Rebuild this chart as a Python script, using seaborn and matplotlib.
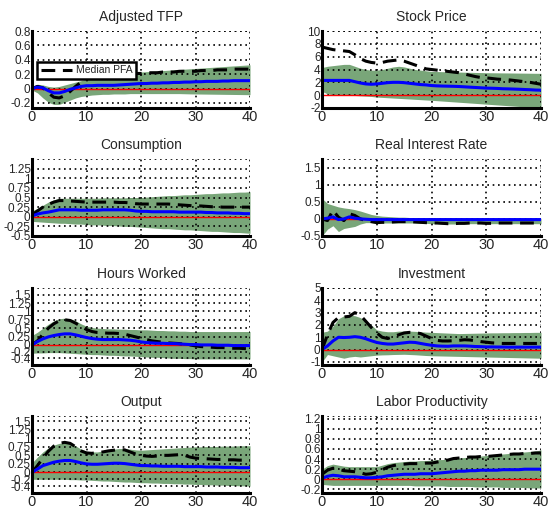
import numpy as np
import pandas as pd
import matplotlib
matplotlib.use("Agg")
import matplotlib.pyplot as plt
import seaborn as sns

sns.set_style("white")
plt.rcParams['font.family'] = ['Liberation Sans', 'DejaVu Sans']

horizon = list(range(41))

titles = ["Adjusted TFP", "Stock Price", "Consumption", "Real Interest Rate",
          "Hours Worked", "Investment", "Output", "Labor Productivity"]

# ---- Adjusted TFP
tfp_med = [0.0, 0.02, 0.01, -0.03, -0.06, -0.06, -0.04, -0.01, 0.01, 0.03, 0.04, 0.04, 0.045, 0.045, 0.045, 0.045, 0.05, 0.055, 0.06, 0.065, 0.07,
           0.07, 0.075, 0.075, 0.08, 0.08, 0.085, 0.085, 0.09, 0.09, 0.095, 0.095, 0.1, 0.1, 0.1, 0.105, 0.105, 0.11, 0.11, 0.11, 0.11]
tfp_pfa = [0.0, 0.03, 0.01, -0.06, -0.12, -0.13, -0.1, -0.04, 0.03, 0.09, 0.13, 0.16, 0.18, 0.19, 0.2, 0.2, 0.2, 0.21, 0.21, 0.21, 0.21,
           0.22, 0.22, 0.22, 0.23, 0.23, 0.23, 0.24, 0.24, 0.24, 0.24, 0.25, 0.25, 0.25, 0.26, 0.26, 0.26, 0.27, 0.27, 0.27, 0.27]
tfp_hi = [0.03, 0.06, 0.05, 0.03, 0.02, 0.03, 0.05, 0.07, 0.09, 0.11, 0.13, 0.14, 0.15, 0.16, 0.17, 0.18, 0.19, 0.2, 0.21, 0.22, 0.23,
          0.235, 0.24, 0.245, 0.25, 0.255, 0.26, 0.265, 0.27, 0.275, 0.28, 0.285, 0.29, 0.295, 0.3, 0.305, 0.31, 0.315, 0.32, 0.325, 0.33]
tfp_lo = [-0.02, -0.06, -0.13, -0.19, -0.22, -0.22, -0.19, -0.16, -0.13, -0.11, -0.1, -0.09, -0.085, -0.08, -0.08, -0.075, -0.075, -0.075, -0.07, -0.07, -0.07,
          -0.07, -0.07, -0.07, -0.07, -0.07, -0.07, -0.07, -0.072, -0.074, -0.075, -0.076, -0.077, -0.078, -0.079, -0.08, -0.081, -0.082, -0.083, -0.084, -0.085]

# ---- Stock Price
sp_med = [2.3, 2.3, 2.3, 2.3, 2.3, 2.3, 2.1, 1.9, 1.75, 1.7, 1.75, 1.85, 1.95, 2.0, 2.0, 1.95, 1.85, 1.75, 1.65, 1.6, 1.5,
          1.45, 1.42, 1.4, 1.38, 1.35, 1.3, 1.25, 1.2, 1.15, 1.1, 1.08, 1.05, 1.0, 0.98, 0.95, 0.92, 0.88, 0.85, 0.8, 0.78]
sp_pfa = [7.5, 7.3, 7.1, 7.0, 6.9, 6.8, 6.3, 5.7, 5.3, 5.1, 5.0, 5.1, 5.3, 5.4, 5.5, 5.3, 5.0, 4.7, 4.4, 4.1, 4.0,
          3.9, 3.8, 3.7, 3.6, 3.5, 3.3, 3.1, 2.9, 2.75, 2.7, 2.6, 2.5, 2.45, 2.4, 2.3, 2.2, 2.1, 2.0, 1.85, 1.7]
sp_hi = [4.3, 4.5, 4.6, 4.7, 4.8, 4.8, 4.5, 4.2, 4.0, 3.9, 3.9, 4.0, 4.2, 4.4, 4.5, 4.4, 4.2, 4.0, 3.9, 3.8, 3.7,
         3.68, 3.66, 3.64, 3.62, 3.6, 3.58, 3.56, 3.54, 3.52, 3.5, 3.49, 3.48, 3.47, 3.46, 3.45, 3.44, 3.43, 3.42, 3.41, 3.4]
sp_lo = [0.6, 0.2, 0.05, 0.0, 0.0, 0.0, -0.05, -0.1, -0.15, -0.2, -0.3, -0.35, -0.4, -0.45, -0.5, -0.55, -0.6, -0.65, -0.7, -0.75, -0.8,
         -0.86, -0.92, -0.98, -1.04, -1.1, -1.16, -1.22, -1.28, -1.34, -1.4, -1.46, -1.52, -1.58, -1.64, -1.7, -1.76, -1.82, -1.88, -1.94, -2.0]

# ---- Consumption
c_med = [0.02, 0.07, 0.1, 0.12, 0.15, 0.18, 0.18, 0.18, 0.18, 0.17, 0.17, 0.17, 0.17, 0.18, 0.18, 0.18, 0.18, 0.18, 0.17, 0.15, 0.14,
         0.14, 0.13, 0.13, 0.13, 0.13, 0.13, 0.12, 0.12, 0.12, 0.12, 0.12, 0.11, 0.11, 0.1, 0.1, 0.1, 0.09, 0.09, 0.08, 0.08]
c_pfa = [0.05, 0.15, 0.25, 0.32, 0.38, 0.42, 0.42, 0.41, 0.4, 0.39, 0.38, 0.38, 0.38, 0.38, 0.38, 0.38, 0.37, 0.37, 0.36, 0.34, 0.33,
         0.33, 0.33, 0.33, 0.33, 0.33, 0.32, 0.31, 0.3, 0.29, 0.28, 0.28, 0.27, 0.26, 0.26, 0.25, 0.25, 0.25, 0.25, 0.25, 0.25]
c_hi = [0.15, 0.22, 0.3, 0.38, 0.44, 0.48, 0.48, 0.48, 0.48, 0.48, 0.48, 0.48, 0.48, 0.49, 0.49, 0.49, 0.49, 0.49, 0.5, 0.5, 0.5,
        0.51, 0.52, 0.53, 0.54, 0.55, 0.55, 0.56, 0.57, 0.57, 0.58, 0.59, 0.6, 0.6, 0.61, 0.62, 0.62, 0.63, 0.64, 0.64, 0.65]
c_lo = [-0.12, -0.13, -0.14, -0.15, -0.16, -0.17, -0.17, -0.18, -0.19, -0.19, -0.2, -0.21, -0.21, -0.22, -0.23, -0.23, -0.24, -0.25, -0.25, -0.26, -0.27,
        -0.28, -0.29, -0.3, -0.31, -0.31, -0.32, -0.33, -0.34, -0.34, -0.35, -0.36, -0.37, -0.38, -0.38, -0.39, -0.4, -0.41, -0.41, -0.42, -0.43]

# ---- Real Interest Rate
r_med = [0.0, 0.02, 0.06, -0.02, 0.0, 0.06, 0.02, 0.0, -0.01, -0.02, -0.02, -0.02, -0.02, -0.02, -0.02, -0.02, -0.02, -0.02, -0.02, -0.02, -0.02,
         -0.02, -0.02, -0.02, -0.02, -0.02, -0.02, -0.02, -0.02, -0.02, -0.02, -0.02, -0.02, -0.02, -0.02, -0.02, -0.02, -0.02, -0.02, -0.02, -0.02]
r_pfa = [0.0, -0.05, 0.25, 0.05, -0.05, 0.15, 0.1, 0.0, -0.05, -0.08, -0.11, -0.1, -0.1, -0.09, -0.08, -0.08, -0.08, -0.09, -0.1, -0.11, -0.12,
         -0.12, -0.13, -0.14, -0.14, -0.13, -0.13, -0.12, -0.12, -0.12, -0.13, -0.13, -0.12, -0.12, -0.12, -0.12, -0.12, -0.12, -0.12, -0.12, -0.12]
r_hi = [0.6, 0.45, 0.4, 0.35, 0.32, 0.3, 0.27, 0.23, 0.18, 0.13, 0.1, 0.08, 0.07, 0.06, 0.05, 0.05, 0.04, 0.04, 0.04, 0.03, 0.03,
        0.03, 0.03, 0.03, 0.03, 0.03, 0.03, 0.03, 0.03, 0.03, 0.03, 0.02, 0.02, 0.02, 0.02, 0.02, 0.02, 0.02, 0.02, 0.02, 0.02]
r_lo = [-0.5, -0.3, -0.2, -0.37, -0.28, -0.25, -0.22, -0.15, -0.11, -0.11, -0.12, -0.12, -0.12, -0.12, -0.12, -0.12, -0.12, -0.12, -0.13, -0.13, -0.14,
        -0.14, -0.15, -0.15, -0.15, -0.15, -0.15, -0.14, -0.14, -0.14, -0.14, -0.14, -0.14, -0.14, -0.14, -0.14, -0.14, -0.14, -0.14, -0.14, -0.14]

# ---- Hours Worked
h_med = [0.0, 0.1, 0.18, 0.24, 0.28, 0.31, 0.33, 0.33, 0.3, 0.26, 0.22, 0.19, 0.17, 0.16, 0.16, 0.16, 0.16, 0.15, 0.14, 0.12, 0.09,
         0.07, 0.06, 0.05, 0.05, 0.04, 0.04, 0.03, 0.02, 0.01, 0.01, 0.0, 0.0, 0.0, -0.01, -0.01, -0.01, -0.02, -0.02, -0.02, -0.02]
h_pfa = [0.0, 0.12, 0.32, 0.5, 0.63, 0.72, 0.75, 0.73, 0.65, 0.55, 0.46, 0.4, 0.37, 0.36, 0.35, 0.35, 0.34, 0.32, 0.28, 0.24, 0.2,
         0.16, 0.12, 0.1, 0.08, 0.06, 0.05, 0.04, 0.02, 0.0, -0.03, -0.05, -0.06, -0.07, -0.08, -0.08, -0.09, -0.1, -0.1, -0.11, -0.12]
h_hi = [0.28, 0.38, 0.5, 0.62, 0.72, 0.78, 0.8, 0.78, 0.72, 0.63, 0.56, 0.52, 0.5, 0.49, 0.48, 0.48, 0.47, 0.47, 0.46, 0.46, 0.45,
        0.45, 0.44, 0.43, 0.43, 0.42, 0.42, 0.41, 0.41, 0.4, 0.4, 0.4, 0.4, 0.4, 0.4, 0.4, 0.4, 0.4, 0.4, 0.4, 0.4]
h_lo = [-0.25, -0.24, -0.24, -0.23, -0.23, -0.23, -0.24, -0.25, -0.26, -0.27, -0.28, -0.29, -0.29, -0.3, -0.31, -0.31, -0.32, -0.33, -0.33, -0.34, -0.35,
        -0.36, -0.37, -0.37, -0.38, -0.39, -0.4, -0.4, -0.41, -0.41, -0.42, -0.42, -0.42, -0.42, -0.42, -0.42, -0.42, -0.42, -0.42, -0.42, -0.42]

# ---- Investment
i_med = [0.0, 0.3, 0.7, 1.0, 0.98, 1.0, 1.05, 1.0, 0.88, 0.72, 0.58, 0.5, 0.45, 0.45, 0.5, 0.55, 0.6, 0.58, 0.5, 0.42, 0.35,
         0.3, 0.28, 0.27, 0.3, 0.3, 0.3, 0.28, 0.25, 0.24, 0.22, 0.22, 0.21, 0.21, 0.2, 0.2, 0.2, 0.2, 0.2, 0.2, 0.2]
i_pfa = [0.0, 1.2, 2.2, 2.6, 2.65, 2.7, 3.0, 2.8, 2.3, 1.8, 1.35, 1.0, 0.9, 1.05, 1.2, 1.35, 1.4, 1.38, 1.3, 1.1, 0.9,
         0.75, 0.7, 0.7, 0.72, 0.75, 0.8, 0.78, 0.72, 0.65, 0.6, 0.55, 0.52, 0.5, 0.5, 0.5, 0.5, 0.5, 0.5, 0.5, 0.5]
i_hi = [1.4, 1.5, 1.9, 2.5, 2.75, 2.8, 2.75, 2.6, 2.3, 2.0, 1.6, 1.5, 1.45, 1.45, 1.5, 1.5, 1.5, 1.48, 1.45, 1.42, 1.4,
        1.38, 1.36, 1.34, 1.32, 1.3, 1.31, 1.32, 1.33, 1.34, 1.35, 1.36, 1.36, 1.37, 1.37, 1.38, 1.38, 1.39, 1.39, 1.4, 1.4]
i_lo = [-1.0, -0.4, -0.5, -0.6, -0.7, -0.6, -0.55, -0.6, -0.55, -0.5, -0.45, -0.43, -0.42, -0.4, -0.39, -0.38, -0.4, -0.42, -0.45, -0.48, -0.5,
        -0.51, -0.52, -0.53, -0.54, -0.55, -0.56, -0.57, -0.58, -0.59, -0.6, -0.61, -0.62, -0.63, -0.64, -0.65, -0.66, -0.67, -0.68, -0.69, -0.7]

# ---- Output
y_med = [0.0, 0.1, 0.2, 0.25, 0.3, 0.33, 0.35, 0.35, 0.32, 0.28, 0.25, 0.24, 0.24, 0.25, 0.26, 0.27, 0.27, 0.26, 0.24, 0.22, 0.2,
         0.2, 0.19, 0.19, 0.18, 0.18, 0.18, 0.18, 0.17, 0.17, 0.17, 0.17, 0.16, 0.16, 0.16, 0.15, 0.15, 0.15, 0.14, 0.14, 0.14]
y_pfa = [0.0, 0.2, 0.42, 0.62, 0.77, 0.85, 0.88, 0.85, 0.75, 0.63, 0.57, 0.56, 0.58, 0.6, 0.63, 0.65, 0.67, 0.66, 0.6, 0.54, 0.5,
         0.48, 0.47, 0.48, 0.5, 0.5, 0.51, 0.52, 0.5, 0.45, 0.42, 0.41, 0.4, 0.39, 0.38, 0.38, 0.37, 0.37, 0.36, 0.36, 0.35]
y_hi = [0.28, 0.45, 0.6, 0.72, 0.8, 0.85, 0.87, 0.85, 0.78, 0.68, 0.62, 0.6, 0.6, 0.63, 0.66, 0.68, 0.7, 0.7, 0.68, 0.66, 0.65,
        0.66, 0.67, 0.68, 0.69, 0.7, 0.71, 0.72, 0.73, 0.74, 0.75, 0.75, 0.76, 0.76, 0.76, 0.77, 0.77, 0.77, 0.78, 0.78, 0.78]
y_lo = [-0.2, -0.2, -0.2, -0.2, -0.2, -0.2, -0.2, -0.21, -0.21, -0.22, -0.22, -0.23, -0.24, -0.25, -0.25, -0.26, -0.27, -0.28, -0.28, -0.29, -0.3,
        -0.3, -0.31, -0.31, -0.32, -0.32, -0.33, -0.33, -0.34, -0.34, -0.35, -0.35, -0.36, -0.36, -0.37, -0.37, -0.38, -0.38, -0.39, -0.39, -0.4]

# ---- Labor Productivity
lp_med = [0.02, 0.06, 0.08, 0.07, 0.05, 0.05, 0.05, 0.04, 0.03, 0.03, 0.04, 0.05, 0.07, 0.08, 0.09, 0.1, 0.1, 0.1, 0.11, 0.11, 0.11,
          0.12, 0.13, 0.14, 0.15, 0.16, 0.16, 0.17, 0.17, 0.18, 0.18, 0.18, 0.18, 0.19, 0.19, 0.19, 0.19, 0.2, 0.2, 0.2, 0.2]
lp_pfa = [0.1, 0.18, 0.22, 0.2, 0.17, 0.16, 0.15, 0.13, 0.1, 0.11, 0.14, 0.19, 0.24, 0.27, 0.29, 0.3, 0.31, 0.31, 0.31, 0.32, 0.32,
          0.34, 0.36, 0.38, 0.41, 0.42, 0.43, 0.44, 0.44, 0.45, 0.45, 0.46, 0.47, 0.48, 0.49, 0.5, 0.5, 0.51, 0.51, 0.52, 0.52]
lp_hi = [0.2, 0.27, 0.3, 0.28, 0.26, 0.25, 0.25, 0.25, 0.25, 0.25, 0.25, 0.28, 0.31, 0.33, 0.34, 0.35, 0.36, 0.36, 0.37, 0.37, 0.38,
         0.39, 0.39, 0.4, 0.41, 0.42, 0.43, 0.44, 0.45, 0.46, 0.47, 0.48, 0.49, 0.5, 0.51, 0.52, 0.53, 0.54, 0.55, 0.56, 0.58]
lp_lo = [-0.1, -0.11, -0.12, -0.12, -0.12, -0.12, -0.12, -0.12, -0.12, -0.12, -0.12, -0.12, -0.12, -0.12, -0.12, -0.12, -0.12, -0.13, -0.13, -0.13, -0.13,
         -0.13, -0.13, -0.14, -0.14, -0.14, -0.14, -0.14, -0.15, -0.15, -0.15, -0.15, -0.15, -0.16, -0.16, -0.16, -0.16, -0.16, -0.17, -0.17, -0.17]

ylims = [(-0.27, 0.8), (-2, 10), (-0.5, 1.5), (-0.5, 1.75),
         (-0.6, 1.7), (-1.25, 5), (-0.6, 1.65), (-0.27, 1.25)]
yticks = [[-0.2, 0, 0.2, 0.4, 0.6, 0.8],
          [-2, 0, 2, 4, 6, 8, 10],
          [-0.5, -0.25, 0, 0.25, 0.5, 0.75, 1, 1.25],
          [-0.5, 0, 0.5, 1, 1.5],
          [-0.4, -0.2, 0, 0.25, 0.5, 0.75, 1, 1.25, 1.5],
          [-1, 0, 1, 2, 3, 4, 5],
          [-0.4, -0.2, 0, 0.25, 0.5, 0.75, 1, 1.25, 1.5],
          [-0.2, 0, 0.2, 0.4, 0.6, 0.8, 1, 1.2]]
yticklabels = [["-0.2", "0", "0.2", "0.4", "0.6", "0.8"],
               ["-2", "0", "2", "4", "6", "8", "10"],
               ["-0.5", "-0.25", "0", "0.25", "0.5", "0.75", "1", "1.25"],
               ["-0.5", "0", "0.5", "1", "1.5"],
               ["-0.4", "-0.2", "0", "0.25", "0.5", "0.75", "1", "1.25", "1.5"],
               ["-1", "0", "1", "2", "3", "4", "5"],
               ["-0.4", "-0.2", "0", "0.25", "0.5", "0.75", "1", "1.25", "1.5"],
               ["-0.2", "0", "0.2", "0.4", "0.6", "0.8", "1", "1.2"]]
xticks = [0, 10, 20, 30, 40]

series = [(tfp_med, tfp_pfa, tfp_lo, tfp_hi), (sp_med, sp_pfa, sp_lo, sp_hi),
          (c_med, c_pfa, c_lo, c_hi), (r_med, r_pfa, r_lo, r_hi),
          (h_med, h_pfa, h_lo, h_hi), (i_med, i_pfa, i_lo, i_hi),
          (y_med, y_pfa, y_lo, y_hi), (lp_med, lp_pfa, lp_lo, lp_hi)]

W, H = 548, 512
fig = plt.figure(figsize=(W / 100, H / 100), dpi=100)
col_x = [32, 322]
col_w = [218, 219]
row_top = [31, 159, 288, 416]
ax_h = 77
band_color = "#79a679"

for k, (title, (med, pfa, lo, hi)) in enumerate(zip(titles, series)):
    r, c = divmod(k, 2)
    left = col_x[c] / W
    bottom = 1 - (row_top[r] + ax_h) / H
    ax = fig.add_axes([left, bottom, col_w[c] / W, ax_h / H])
    df = pd.DataFrame({"h": horizon, "med": med, "pfa": pfa, "lo": lo, "hi": hi})
    ax.fill_between(df["h"], df["lo"], df["hi"], color=band_color, lw=0, zorder=1)
    ax.axhline(0, color="red", lw=1.0, zorder=3)
    sns.lineplot(data=df, x="h", y="pfa", ax=ax, color="black", lw=2.2,
                 dashes=False, zorder=4, label="Median PFA")
    ax.lines[-1].set_dashes([4.5, 2.5])
    sns.lineplot(data=df, x="h", y="med", ax=ax, color="#0000ff", lw=2.2, zorder=5)
    ylo, yhi = ylims[k]
    ax.set_xlim(0, 40)
    ax.set_ylim(ylo, yhi)
    ax.set_xticks(xticks)
    ax.set_xticklabels([str(v) for v in xticks], fontsize=10.5)
    ax.set_yticks(yticks[k])
    ax.set_yticklabels(yticklabels[k], fontsize=8.5)
    ax.tick_params(axis="y", direction="in", length=3, width=1.2, pad=1)
    ax.tick_params(axis="x", direction="in", length=3, width=1.2, pad=1.5)
    ax.set_xlabel("")
    ax.set_ylabel("")
    ax.set_title(title, fontsize=10, pad=7)
    # dotted grid (MATLAB style)
    for yv in list(yticks[k]) + [yhi]:
        ax.axhline(yv, color="black", lw=1.2, ls=(0, (1, 2.2)), zorder=2)
    for xv in [10, 20, 30, 40]:
        ax.axvline(xv, color="black", lw=1.2, ls=(0, (1, 2.2)), zorder=2)
    for s in ["top", "right"]:
        ax.spines[s].set_visible(False)
    for s in ["left", "bottom"]:
        ax.spines[s].set_linewidth(2.2)
        ax.spines[s].set_color("black")
        ax.spines[s].set_zorder(6)
    if k == 0:
        h_, l_ = ax.get_legend_handles_labels()
        leg = ax.legend([h_[0]], [l_[0]], loc="upper left",
                        bbox_to_anchor=(0.023, 0.60), borderaxespad=0,
                        fancybox=False, framealpha=1, edgecolor="black",
                        fontsize=7.5, handlelength=3.0, handletextpad=0.4,
                        borderpad=0.35)
        leg.get_frame().set_linewidth(1.8)
        leg.set_zorder(10)
    else:
        if ax.get_legend() is not None:
            ax.get_legend().remove()

fig.savefig("out.png", dpi=100)
